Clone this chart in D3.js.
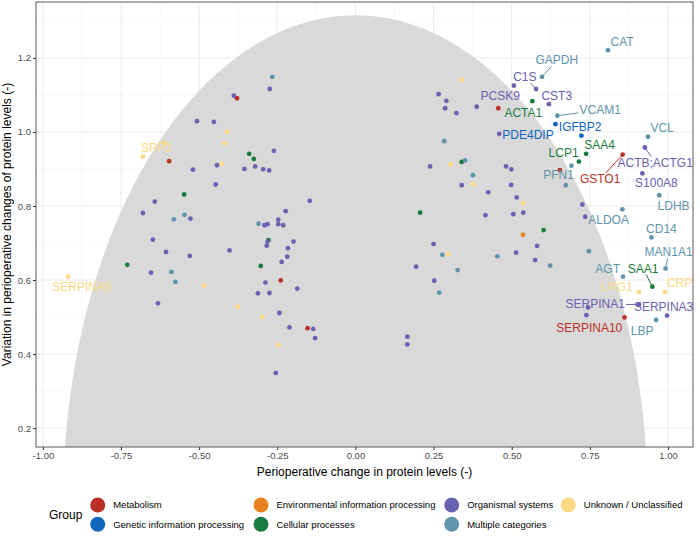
<!DOCTYPE html>
<html>
<head>
<meta charset="utf-8">
<script src="https://cdn.jsdelivr.net/npm/d3@7"></script>
<style>
  body { margin: 0; background: #fff; }
  svg { font-family: "Liberation Sans", Arial, sans-serif; }
</style>
</head>
<body>
<div id="chart"></div>
<script>
// groups, in legend order (column-wise, 2 rows)
const groups = ["Metabolism", "Genetic information processing", "Environmental information processing",
  "Cellular processes", "Organismal systems", "Multiple categories", "Unknown / Unclassified"];
const groupColors = ["#BA3026", "#1066BF", "#E6831F", "#1A7B40", "#6A61AF", "#6094AB", "#FDD983"];

const xTicks = [-1, -0.75, -0.5, -0.25, 0, 0.25, 0.5, 0.75, 1];
const yTicks = [0.2, 0.4, 0.6, 0.8, 1.0, 1.2];

// points per group: [perioperative change, variation]
const metabolism = [[-0.379,1.091],[-0.596,0.921],[-0.239,0.599],[-0.153,0.470],[0.457,1.064],
  [0.855,0.939],[0.654,0.897],[0.861,0.499]];
const genetic = [[0.640,1.021],[0.723,0.990]];
const environmental = [[0.536,0.722]];
const cellular = [[-0.340,0.941],[-0.325,0.927],[-0.548,0.831],[-0.278,0.708],[-0.303,0.638],
  [-0.730,0.641],[0.566,1.083],[0.738,0.941],[0.715,0.920],[0.340,0.919],[0.207,0.782],
  [0.602,0.735],[0.950,0.582]];
const organismal = [[-0.274,1.116],[-0.389,1.098],[-0.507,1.029],[-0.453,1.027],[-0.261,0.949],
  [-0.443,0.910],[-0.520,0.898],[-0.355,0.900],[-0.321,0.907],[-0.295,0.899],[-0.276,0.896],
  [-0.447,0.858],[-0.642,0.812],[-0.146,0.814],[-0.680,0.781],[-0.528,0.766],[-0.223,0.786],
  [-0.247,0.763],[-0.291,0.748],[-0.281,0.751],[-0.247,0.751],[-0.231,0.748],[-0.648,0.709],
  [-0.281,0.704],[-0.284,0.693],[-0.198,0.704],[-0.216,0.686],[-0.403,0.680],[-0.606,0.676],
  [-0.530,0.665],[-0.218,0.663],[-0.236,0.649],[-0.654,0.620],[-0.288,0.593],[-0.186,0.577],
  [-0.312,0.564],[-0.275,0.565],[-0.632,0.537],[-0.243,0.511],[-0.211,0.472],[-0.135,0.468],
  [-0.129,0.443],[-0.255,0.349],
  [0.507,1.125],[0.578,1.116],[0.619,1.075],[0.266,1.102],[0.291,1.084],[0.287,1.064],
  [0.323,1.051],[0.388,1.068],[0.460,0.995],[0.926,0.958],[0.239,0.907],[0.482,0.907],
  [0.499,0.899],[0.340,0.856],[0.498,0.857],[0.918,0.888],[0.425,0.837],[0.516,0.823],
  [0.726,0.804],[0.735,0.771],[0.416,0.775],[0.505,0.778],[0.537,0.782],[0.250,0.697],
  [0.581,0.692],[0.514,0.674],[0.575,0.654],[0.194,0.636],[0.252,0.598],[0.166,0.447],
  [0.166,0.426],[0.744,0.526],[0.739,0.505],[0.907,0.534],[0.997,0.504]];
const multiple = [[-0.266,1.149],[-0.547,0.776],[-0.581,0.764],[-0.310,0.752],[-0.589,0.622],
  [-0.576,0.595],[0.808,1.221],[0.597,1.149],[0.646,1.044],[0.284,0.975],[0.936,0.987],
  [0.691,0.909],[0.673,0.856],[0.351,0.923],[0.376,0.883],[0.972,0.829],[0.854,0.791],
  [0.947,0.715],[0.747,0.678],[0.278,0.668],[0.454,0.664],[0.623,0.639],[0.327,0.627],
  [0.992,0.631],[0.856,0.609],[0.268,0.566],[0.962,0.492]];
const unknown = [[-0.411,1.001],[-0.419,0.970],[-0.612,0.970],[-0.680,0.933],[-0.428,0.914],
  [-0.485,0.585],[-0.919,0.609],[-0.376,0.528],[-0.299,0.500],[-0.246,0.424],[0.339,1.141],
  [0.305,0.912],[0.377,0.859],[0.537,0.808],[0.296,0.670],[0.907,0.568],[0.990,0.568]];

const series = [metabolism, genetic, environmental, cellular, organismal, multiple, unknown];

// labels: name, group, label x, label y, linked point (if a segment is drawn)
const labels = [
  ["CAT", 5, 0.853, 1.245], ["GAPDH", 5, 0.644, 1.194, 0.597, 1.149],
  ["C1S", 4, 0.542, 1.149, 0.578, 1.116], ["CST3", 4, 0.644, 1.099],
  ["PCSK9", 4, 0.463, 1.099], ["ACTA1", 3, 0.537, 1.051],
  ["VCAM1", 5, 0.783, 1.060, 0.646, 1.044], ["IGFBP2", 1, 0.719, 1.015],
  ["PDE4DIP", 1, 0.552, 0.993], ["VCL", 5, 0.981, 1.011],
  ["ACTB;ACTG1", 4, 0.959, 0.918, 0.926, 0.958], ["SAA4", 3, 0.781, 0.966],
  ["LCP1", 3, 0.666, 0.943], ["GSTO1", 0, 0.783, 0.874, 0.855, 0.939],
  ["PFN1", 5, 0.650, 0.885], ["S100A8", 4, 0.963, 0.862],
  ["LDHB", 5, 1.018, 0.802], ["ALDOA", 5, 0.810, 0.763],
  ["CD14", 5, 0.979, 0.738], ["MAN1A1", 5, 1.002, 0.676, 0.992, 0.631],
  ["AGT", 5, 0.807, 0.632], ["SAA1", 3, 0.920, 0.632, 0.950, 0.582],
  ["LRG1", 6, 0.837, 0.581], ["CRP", 6, 1.037, 0.592],
  ["SERPINA1", 4, 0.767, 0.535, 0.907, 0.534], ["SERPINA3", 4, 0.986, 0.527],
  ["SERPINA10", 0, 0.748, 0.472], ["LBP", 5, 0.917, 0.464],
  ["SPP2", 6, -0.637, 0.957], ["SERPINA5", 6, -0.875, 0.581]
];

const width = 700, height = 536;
const panel = { left: 36, right: 693, top: 2, bottom: 447 };

const svg = d3.select("#chart").append("svg")
  .attr("width", width).attr("height", height);

const x = d3.scaleLinear().domain([-1.022, 1.08]).range([panel.left, panel.right]);
const y = d3.scaleLinear().domain([0.149, 1.351]).range([panel.bottom, panel.top]);

svg.append("defs").append("clipPath").attr("id", "clip")
  .append("rect").attr("x", panel.left).attr("y", panel.top)
  .attr("width", panel.right - panel.left).attr("height", panel.bottom - panel.top);

// grid
const grid = svg.append("g");
const xMinor = xTicks.slice(1).map(d => d - 0.125);
const yMinor = [0.3, 0.5, 0.7, 0.9, 1.1, 1.3];
grid.selectAll(".xm").data(xMinor).join("line")
  .attr("x1", d => x(d)).attr("x2", d => x(d)).attr("y1", panel.top).attr("y2", panel.bottom)
  .attr("stroke", "#f2f2f2").attr("stroke-width", 0.6);
grid.selectAll(".ym").data(yMinor).join("line")
  .attr("y1", d => y(d)).attr("y2", d => y(d)).attr("x1", panel.left).attr("x2", panel.right)
  .attr("stroke", "#f2f2f2").attr("stroke-width", 0.6);
grid.selectAll(".xg").data(xTicks).join("line")
  .attr("x1", d => x(d)).attr("x2", d => x(d)).attr("y1", panel.top).attr("y2", panel.bottom)
  .attr("stroke", "#ebebeb").attr("stroke-width", 1);
grid.selectAll(".yg").data(yTicks).join("line")
  .attr("y1", d => y(d)).attr("y2", d => y(d)).attr("x1", panel.left).attr("x2", panel.right)
  .attr("stroke", "#ebebeb").attr("stroke-width", 1);

// half ellipse region
const ea = 0.935, eb = 1.315;
const arc = d3.range(0, 181).map(i => {
  const t = Math.PI * i / 180;
  return [ -ea * Math.cos(t), eb * Math.sin(t) ];
});
svg.append("path")
  .attr("clip-path", "url(#clip)")
  .attr("d", d3.line().x(d => x(d[0])).y(d => y(d[1]))(arc) + "Z")
  .attr("fill", "#d9d9d9");

// points
const pts = svg.append("g").attr("clip-path", "url(#clip)");
series.forEach((s, gi) => {
  pts.selectAll(null).data(s).join("circle")
    .attr("cx", d => x(d[0])).attr("cy", d => y(d[1]))
    .attr("r", 2.4).attr("fill", groupColors[gi]);
});

// labels + segments
const lab = svg.append("g");
labels.forEach(l => {
  const t = lab.append("text")
    .attr("x", x(l[2])).attr("y", y(l[3])).attr("dy", "0.36em")
    .attr("text-anchor", "middle").attr("font-size", 12)
    .attr("fill", groupColors[l[1]]).text(l[0]);
  if (l.length > 4) {
    const b = t.node().getBBox();
    const cx = b.x + b.width / 2, cy = b.y + b.height / 2;
    const px = x(l[4]), py = y(l[5]);
    // clip line from centre to point at the label box edge
    const dx = px - cx, dy = py - cy;
    const s = Math.min(Math.abs((b.width / 2 + 1) / (dx || 1e-9)), Math.abs((b.height / 2 - 1) / (dy || 1e-9)));
    lab.insert("line", "text")
      .attr("x1", cx + dx * s).attr("y1", cy + dy * s)
      .attr("x2", px).attr("y2", py)
      .attr("stroke", groupColors[l[1]]).attr("stroke-width", 1);
  }
});

// panel border
svg.append("rect")
  .attr("x", panel.left).attr("y", panel.top)
  .attr("width", panel.right - panel.left).attr("height", panel.bottom - panel.top)
  .attr("fill", "none").attr("stroke", "#5a5a5a").attr("stroke-width", 1);

// axes
const xAxis = svg.append("g").attr("transform", `translate(0,${panel.bottom})`)
  .call(d3.axisBottom(x).tickValues(xTicks).tickFormat(d3.format(".2f")).tickSize(3).tickPadding(2));
const yAxis = svg.append("g").attr("transform", `translate(${panel.left},0)`)
  .call(d3.axisLeft(y).tickValues(yTicks).tickFormat(d3.format(".1f")).tickSize(3).tickPadding(2));
[xAxis, yAxis].forEach(a => {
  a.select(".domain").remove();
  a.selectAll(".tick line").attr("stroke", "#333");
  a.selectAll(".tick text").attr("fill", "#4d4d4d").attr("font-size", 9.5)
    .attr("font-family", "Liberation Sans, Arial, sans-serif");
});
xAxis.selectAll(".tick text").text(d => d3.format(".2f")(d).replace("−", "-"));

svg.append("text")
  .attr("x", (panel.left + panel.right) / 2).attr("y", 476)
  .attr("text-anchor", "middle").attr("font-size", 12).attr("fill", "#000")
  .text("Perioperative change in protein levels (-)");
svg.append("text")
  .attr("transform", `translate(10.5,${(panel.top + panel.bottom) / 2}) rotate(-90)`)
  .attr("text-anchor", "middle").attr("font-size", 12).attr("fill", "#000")
  .text("Variation in perioperative changes of protein levels (-)");

// legend
const legend = svg.append("g");
legend.append("text").attr("x", 49).attr("y", 519).attr("font-size", 12).text("Group");
const colX = [97.7, 261, 451.7, 568.3];
const rowY = [505, 524.3];
groups.forEach((g, i) => {
  const cx = colX[Math.floor(i / 2)], cy = rowY[i % 2];
  legend.append("circle").attr("cx", cx).attr("cy", cy).attr("r", 7.5).attr("fill", groupColors[i]);
  legend.append("text").attr("x", cx + 15.5).attr("y", cy).attr("dy", "0.35em")
    .attr("font-size", 9.5).attr("fill", "#000").text(g);
});
</script>
</body>
</html>
